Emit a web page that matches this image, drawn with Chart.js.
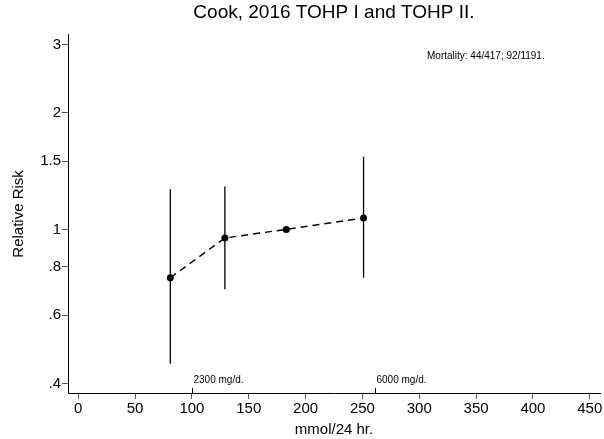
<!DOCTYPE html>
<html>
<head>
<meta charset="utf-8">
<script src="https://cdn.jsdelivr.net/npm/chart.js@4/dist/chart.umd.min.js"></script>
<style>
  html, body { margin: 0; padding: 0; background: #fff; }
  #wrap { width: 604px; height: 439px; }
</style>
</head>
<body>
<div id="wrap"><canvas id="rr-chart" width="604" height="439"></canvas></div>
<script>
// Sodium intake (mmol/24 hr) vs relative risk of mortality
var sodiumLevels = [81, 129, 183, 251];
var relativeRisk = [0.75, 0.95, 1.0, 1.07];
var lowerCI = [0.45, 0.70, null, 0.75];
var upperCI = [1.27, 1.29, null, 1.54];

var xTicks = [0, 50, 100, 150, 200, 250, 300, 350, 400, 450];
var yTicks = [0.4, 0.6, 0.8, 1, 1.5, 2, 3];
var yTickLabels = [".4", ".6", ".8", "1", "1.5", "2", "3"];

var markerValues = [100, 261];
var markerLabels = ["2300 mg/d.", "6000 mg/d."];
var noteText = "Mortality: 44/417; 92/1191.";

var fontFamily = "'Liberation Sans', Arial, Helvetica, sans-serif";

var errorBarPlugin = {
    id: "errorBars",
    afterDatasetsDraw: function (chart) {
        var ctx = chart.ctx;
        var xs = chart.scales.x;
        var ys = chart.scales.y;
        ctx.save();
        ctx.strokeStyle = "#000";
        ctx.lineWidth = 1.3;
        sodiumLevels.forEach(function (v, i) {
            if (lowerCI[i] == null) return;
            var px = xs.getPixelForValue(v);
            ctx.beginPath();
            ctx.moveTo(px, ys.getPixelForValue(lowerCI[i]));
            ctx.lineTo(px, ys.getPixelForValue(upperCI[i]));
            ctx.stroke();
        });
        ctx.restore();
    },
};

var annotationPlugin = {
    id: "notes",
    afterDraw: function (chart) {
        var ctx = chart.ctx;
        var xs = chart.scales.x;
        var area = chart.chartArea;
        ctx.save();
        ctx.strokeStyle = "#000";
        ctx.lineWidth = 1;
        ctx.fillStyle = "#000";
        ctx.font = "10px " + fontFamily;
        ctx.textBaseline = "alphabetic";
        markerValues.forEach(function (v, i) {
            var px = Math.round(xs.getPixelForValue(v)) + 0.5;
            ctx.beginPath();
            ctx.moveTo(px, area.bottom);
            ctx.lineTo(px, area.bottom - 5);
            ctx.stroke();
            ctx.fillText(markerLabels[i], px + 1, area.bottom - 10);
        });
        ctx.fillText(noteText, area.right - 173, area.top + 24);
        ctx.restore();
    },
};

var rrConfig = {
    type: "line",
    data: {
        datasets: [
            {
                label: "Relative Risk",
                data: sodiumLevels.map(function (v, i) {
                    return { x: v, y: relativeRisk[i] };
                }),
                borderColor: "#000",
                backgroundColor: "#000",
                borderWidth: 1.4,
                borderDash: [7, 5],
                pointRadius: 3.5,
                pointBackgroundColor: "#000",
                pointBorderWidth: 0,
                tension: 0,
            },
        ],
    },
    options: {
        responsive: false,
        animation: false,
        layout: { padding: { left: 0, right: 4, top: 0, bottom: 0 } },
        plugins: {
            legend: { display: false },
            tooltip: { enabled: false },
            title: {
                display: true,
                text: "Cook, 2016 TOHP I and TOHP II.",
                fullSize: false,
                color: "#000",
                font: { family: fontFamily, size: 19, weight: "normal" },
                padding: { top: 1, bottom: 11 },
            },
        },
        scales: {
            x: {
                type: "linear",
                min: -9,
                max: 459,
                afterBuildTicks: function (axis) {
                    axis.ticks = xTicks.map(function (v) { return { value: v }; });
                },
                afterFit: function (axis) { axis.height = 46; },
                border: { color: "#000", width: 1 },
                grid: {
                    drawOnChartArea: false,
                    drawTicks: true,
                    tickLength: 6,
                    tickColor: "#555",
                },
                ticks: {
                    color: "#000",
                    padding: 1,
                    maxRotation: 0,
                    font: { family: fontFamily, size: 15 },
                },
                title: {
                    display: true,
                    text: "mmol/24 hr.",
                    color: "#000",
                    padding: { top: 0, bottom: 0 },
                    font: { family: fontFamily, size: 15 },
                },
            },
            y: {
                type: "logarithmic",
                min: 0.378,
                max: 3.18,
                afterBuildTicks: function (axis) {
                    axis.ticks = yTicks.map(function (v) { return { value: v }; });
                },
                afterFit: function (axis) { axis.width = 68; },
                border: { color: "#000", width: 1 },
                grid: {
                    drawOnChartArea: false,
                    drawTicks: true,
                    tickLength: 6,
                    tickColor: "#555",
                },
                ticks: {
                    color: "#000",
                    padding: 1,
                    font: { family: fontFamily, size: 15 },
                    callback: function (value) {
                        var idx = yTicks.indexOf(value);
                        return idx >= 0 ? yTickLabels[idx] : "";
                    },
                },
                title: {
                    display: true,
                    text: "Relative Risk",
                    color: "#000",
                    padding: { top: 10, bottom: 0 },
                    font: { family: fontFamily, size: 15 },
                },
            },
        },
    },
    plugins: [errorBarPlugin, annotationPlugin],
};

var rrChart = new Chart(document.getElementById("rr-chart").getContext("2d"), rrConfig);
</script>
</body>
</html>
